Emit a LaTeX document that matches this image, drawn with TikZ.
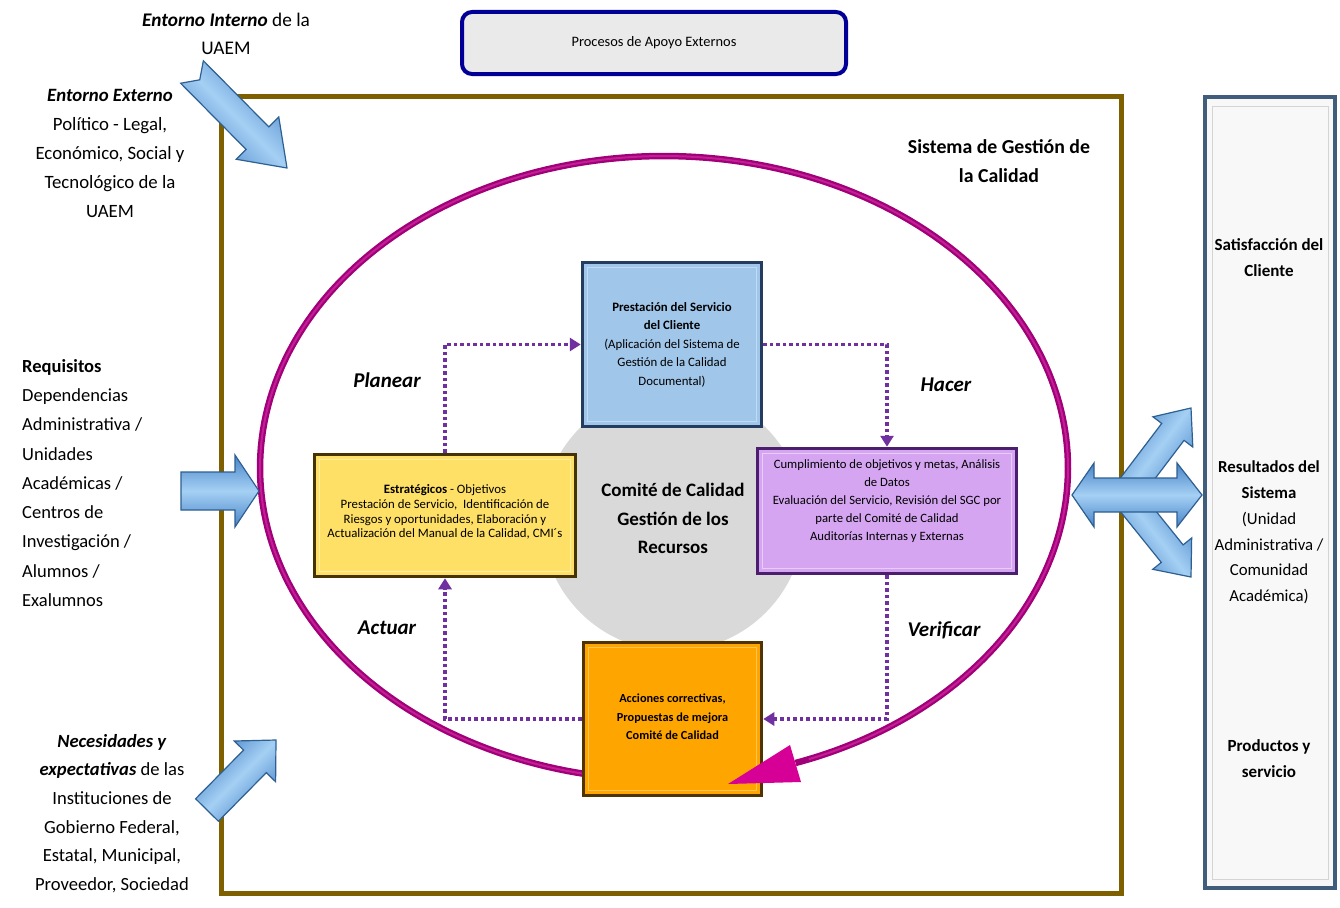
\documentclass[tikz,border=0pt]{standalone}
\usepackage{fontspec}
\setmainfont{Carlito}
\usetikzlibrary{calc,arrows.meta}

\definecolor{framebrown}{RGB}{127,96,0}
\definecolor{navyline}{RGB}{0,0,150}
\definecolor{paegray}{RGB}{234,234,234}
\definecolor{panelline}{RGB}{64,94,124}
\definecolor{panelfill}{RGB}{248,248,248}
\definecolor{panelinner}{RGB}{212,212,212}
\definecolor{circgray}{RGB}{217,217,217}
\definecolor{loopmag}{RGB}{160,0,120}
\definecolor{loopmaglt}{RGB}{196,30,150}
\definecolor{headmag}{RGB}{215,0,150}
\definecolor{pdcaline}{RGB}{112,48,160}
\definecolor{bluefill}{RGB}{160,198,234}
\definecolor{blueedge}{RGB}{35,60,95}
\definecolor{bluebevel}{RGB}{192,220,245}
\definecolor{yelfill}{RGB}{255,224,102}
\definecolor{yeledge}{RGB}{70,52,0}
\definecolor{yelbevel}{RGB}{255,238,160}
\definecolor{purfill}{RGB}{213,165,242}
\definecolor{puredge}{RGB}{75,30,110}
\definecolor{purbevel}{RGB}{232,204,250}
\definecolor{orafill}{RGB}{255,165,0}
\definecolor{oraedge}{RGB}{80,52,0}
\definecolor{orabevel}{RGB}{255,196,84}
\definecolor{arrlight}{RGB}{165,208,244}
\definecolor{arrmid}{RGB}{72,132,200}
\definecolor{arredge}{RGB}{45,95,145}

\tikzset{
  sidetext/.style={inner sep=0pt, align=center, font=\fontsize{18.8}{29}\selectfont},
  paneltext/.style={inner sep=0pt, align=center, font=\fontsize{17}{25.5}\selectfont},
  pdcabox/.style={draw, line width=3.5pt, inner sep=0pt},
  bevel/.style={line width=1.2pt},
  boxtext/.style={inner sep=0pt, align=center, font=\fontsize{12.8}{18.5}\selectfont},
  phase/.style={inner sep=0pt, font=\fontsize{21}{24}\selectfont\bfseries\itshape},
  pdca/.style={draw=pdcaline, line width=3.5pt, dash pattern=on 3.5pt off 3pt,
    -{Triangle[length=11pt,width=13pt]}},
  arrowbody/.style={draw=arredge, line width=1.2pt, top color=arrmid,
    bottom color=arrmid, middle color=arrlight}
}

% block arrow: #1 name, #2 tail, #3 tip, #4 shaft half width,
% #5 head half width, #6 head length, #7 tail notch depth, #8 shading angle
\newcommand\blockarrow[8]{%
  \coordinate (#1-tail) at (#2);
  \coordinate (#1-tip) at (#3);
  \coordinate (#1-h) at ($(#1-tip)!#6!(#1-tail)$);
  \path[arrowbody, shading angle=#8]
    ($(#1-tail)!#4!90:(#1-tip)$) -- ($(#1-h)!#4!90:(#1-tip)$)
    -- ($(#1-h)!#5!90:(#1-tip)$) -- (#1-tip)
    -- ($(#1-h)!#5!-90:(#1-tip)$) -- ($(#1-h)!#4!-90:(#1-tip)$)
    -- ($(#1-tail)!#4!-90:(#1-tip)$) -- ($(#1-tail)!#7!(#1-tip)$) -- cycle;
}

\begin{document}
\begin{tikzpicture}[x=1pt,y=-1pt]
\useasboundingbox (0,0) rectangle (1340,907);

% outer frame of the quality management system
\node[draw=framebrown, line width=5pt, minimum width=900pt, minimum height=797pt,
  inner sep=0pt] (sgc) at (671,494.5) {};

% external support processes
\node[draw=navyline, line width=4pt, fill=paegray, rounded corners=10pt,
  minimum width=384pt, minimum height=62pt,
  font=\fontsize{14.4}{16}\selectfont] (pae) at (654,43) {Procesos de Apoyo Externos};

% results column on the right
\node[draw=panelline, line width=4pt, fill=panelfill, minimum width=130pt,
  minimum height=791pt, inner sep=0pt] (res) at (1270,492.5) {};
\draw[panelinner, line width=1pt] ([shift={(9,11)}]res.north west)
  rectangle ([shift={(-9,-11)}]res.south east);

% grey core disc
\node[circle, fill=circgray, minimum size=262pt, inner sep=0pt] (core) at (673,520) {};

% PDCA loop
\draw[loopmag, line width=6.5pt] plot[domain=101:431, samples=220]
  ({664+404*cos(\x)},{468+312*sin(\x)});
\draw[loopmaglt, line width=2pt] plot[domain=101:429, samples=220]
  ({664+404*cos(\x)},{468+312*sin(\x)});

% PDCA boxes
\node[pdcabox, fill=bluefill, draw=blueedge, minimum width=179pt, minimum height=164pt]
  (prest) at (672,344.5) {};
\draw[bevel, bluebevel] ([shift={(7,7)}]prest.north west) rectangle ([shift={(-7,-7)}]prest.south east);
\node[pdcabox, fill=yelfill, draw=yeledge, minimum width=261pt, minimum height=122pt]
  (estr) at (445,515.5) {};
\draw[bevel, yelbevel] ([shift={(7,7)}]estr.north west) rectangle ([shift={(-7,-7)}]estr.south east);
\node[pdcabox, fill=purfill, draw=puredge, minimum width=259pt, minimum height=125pt]
  (cumpl) at (887,511) {};
\draw[bevel, purbevel] ([shift={(7,7)}]cumpl.north west) rectangle ([shift={(-7,-7)}]cumpl.south east);
\node[pdcabox, fill=orafill, draw=oraedge, minimum width=178pt, minimum height=153pt]
  (acc) at (672.5,719) {};
\draw[bevel, orabevel] ([shift={(7,7)}]acc.north west) rectangle ([shift={(-7,-7)}]acc.south east);

% head of the PDCA loop
\fill[headmag] (801,782) -- (728,784) -- (790,745) -- cycle;

% box texts
\node[boxtext] (prest-t) at (672,344.5)
  {\textbf{Prestación del Servicio}\\\textbf{del Cliente}\\(Aplicación del Sistema de\\Gestión de la Calidad\\Documental)};
\node[boxtext, font=\fontsize{12.8}{14.8}\selectfont] (estr-t) at (445,512)
  {\textbf{Estratégicos} - Objetivos\\Prestación de Servicio,\ \ Identificación de\\Riesgos y oportunidades, Elaboración y\\Actualización del Manual de la Calidad, CMI´s};
\node[boxtext, font=\fontsize{12.7}{18}\selectfont] (cumpl-t) at (887,501)
  {Cumplimiento de objetivos y metas, Análisis\\de Datos\\Evaluación del Servicio, Revisión del SGC por\\parte del Comité de Calidad\\Auditorías Internas y Externas};
\node[boxtext, font=\fontsize{12.3}{18.5}\selectfont\bfseries] (acc-t) at (672.5,717)
  {Acciones correctivas,\\Propuestas de mejora\\Comité de Calidad};

% PDCA connectors
\draw[pdca] (estr.north) |- (prest.west);
\draw[pdca] (prest.east) -| (cumpl.north);
\draw[pdca] (cumpl.south) |- (acc.east);
\draw[pdca] (acc.west) -| (estr.south);

% phase labels
\node[phase] (planear) at (387,380) {Planear};
\node[phase] (hacer) at (946,385) {Hacer};
\node[phase] (actuar) at (387,628) {Actuar};
\node[phase] (verificar) at (944,630) {Verificar};

% core text
\node[inner sep=0pt, align=center, font=\fontsize{19}{28.5}\selectfont\bfseries] (core-t)
  at (673,518.5) {Comité de Calidad\\Gestión de los\\Recursos};

\node[inner sep=0pt, align=center, font=\fontsize{19.8}{29}\selectfont\bfseries] (sgc-t)
  at (999,161) {Sistema de Gestión de\\la Calidad};

% inputs on the left
\node[sidetext, font=\fontsize{19.3}{28}\selectfont] (interno) at (226,34)
  {\textbf{\textit{Entorno Interno}} de la\\UAEM};
\node[sidetext] (externo) at (110,153)
  {\textbf{\textit{Entorno Externo}}\\Político - Legal,\\Económico, Social y\\Tecnológico de la\\UAEM};
\node[sidetext, align=left, anchor=west, font=\fontsize{18.5}{29.25}\selectfont] (requisitos) at (22,483)
  {\textbf{Requisitos}\\Dependencias\\Administrativa /\\Unidades\\Académicas /\\Centros de\\Investigación /\\Alumnos /\\Exalumnos};
\node[sidetext, font=\fontsize{18.6}{28.6}\selectfont] (necesidades) at (112,813.5)
  {\textbf{\textit{Necesidades y}}\\\textbf{\textit{expectativas}} de las\\Instituciones de\\Gobierno Federal,\\Estatal, Municipal,\\Proveedor, Sociedad};

% outputs on the right
\node[paneltext, font=\fontsize{17}{25.5}\selectfont\bfseries] (satisf) at (1269,257.5)
  {Satisfacción del\\Cliente};
\node[paneltext, font=\fontsize{16.8}{25.8}\selectfont] (result) at (1269,532.5)
  {\textbf{Resultados del}\\\textbf{Sistema}\\(Unidad\\Administrativa /\\Comunidad\\Académica)};
\node[paneltext, font=\fontsize{17}{26}\selectfont\bfseries] (prod) at (1269,759)
  {Productos y\\servicio};

% block arrows
\blockarrow{inA}{192,72}{287,168}{16pt}{30pt}{42pt}{11pt}{-45}
\blockarrow{inB}{181,491}{259,491}{19pt}{36pt}{24pt}{0pt}{0}
\blockarrow{inC}{207,810}{276,740}{16pt}{29pt}{30pt}{0pt}{45}
\blockarrow{outU}{1125,495}{1191,408}{14pt}{25pt}{30pt}{0pt}{53}
\blockarrow{outD}{1125,495}{1191,577}{14pt}{25pt}{30pt}{0pt}{-52}
\path[arrowbody] (1072,495) -- (1094,463) -- (1094,478) -- (1177,478) -- (1177,463)
  -- (1202,495) -- (1177,527) -- (1177,512) -- (1094,512) -- (1094,527) -- cycle;
\end{tikzpicture}
\end{document}
